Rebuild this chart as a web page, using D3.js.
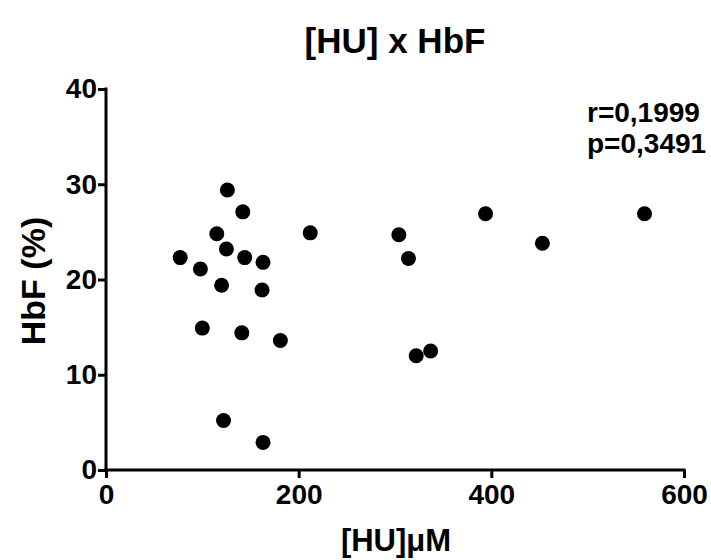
<!DOCTYPE html>
<html>
<head>
<meta charset="utf-8">
<script src="https://cdn.jsdelivr.net/npm/d3@7"></script>
<style>
  body { margin: 0; background: #fff; }
  text { font-family: "Liberation Sans", Arial, sans-serif; font-weight: bold; fill: #000; }
</style>
</head>
<body>
<div id="chart"></div>
<script>
const width = 711,
    height = 560,
    margin = { top: 89, bottom: 90, left: 106, right: 27 };

// HU concentration (uM) and HbF (%)
const huValues = [126, 142, 115, 212, 125, 77, 144, 163, 98, 120, 162, 100, 141, 181, 122, 163, 304, 314, 394, 453, 559, 322, 337];
const hbfValues = [29.4, 27.1, 24.8, 24.9, 23.2, 22.3, 22.3, 21.8, 21.1, 19.4, 18.9, 14.9, 14.4, 13.6, 5.2, 2.9, 24.7, 22.2, 26.9, 23.8, 26.9, 12.0, 12.5];
const xTicks = [0, 200, 400, 600];
const yTicks = [0, 10, 20, 30, 40];
const statLines = ["r=0,1999", "p=0,3491"];

const svg = d3.select("#chart")
    .append("svg")
    .attr("width", width)
    .attr("height", height);

const x = d3.scaleLinear()
    .domain([0, 600])
    .range([margin.left, width - margin.right]);

const y = d3.scaleLinear()
    .domain([0, 40])
    .range([height - margin.bottom, margin.top]);

// axes
const xAxis = svg.append("g")
    .attr("transform", `translate(0,${y(0)})`)
    .call(d3.axisBottom(x).tickValues(xTicks).tickSize(8).tickSizeOuter(0).tickPadding(6));

const yAxis = svg.append("g")
    .attr("transform", `translate(${x(0)},0)`)
    .call(d3.axisLeft(y).tickValues(yTicks).tickSize(8).tickSizeOuter(0).tickPadding(1));

[xAxis, yAxis].forEach(g => {
    g.select(".domain").attr("stroke", "#000").attr("stroke-width", 3);
    g.selectAll(".tick line").attr("stroke", "#000").attr("stroke-width", 3);
    g.selectAll(".tick text")
        .style("font-family", "'Liberation Sans', Arial, sans-serif")
        .style("font-weight", "bold")
        .style("font-size", "28px")
        .attr("fill", "#000");
});
// axis lines extend a little past ends
xAxis.select(".domain").attr("d", `M${x(0) - 1.5},0H${x(600) + 1.5}`);
yAxis.select(".domain").attr("d", `M0,${y(40) - 1.5}V${y(0) + 1.5}`);

// points
svg.selectAll(".dot")
    .data(huValues.map((d, i) => ({ hu: d, hbf: hbfValues[i] })))
    .join("circle")
    .attr("class", "dot")
    .attr("cx", d => x(d.hu))
    .attr("cy", d => y(d.hbf))
    .attr("r", 7.5)
    .attr("fill", "#000");

// title
svg.append("text")
    .attr("x", 395)
    .attr("y", 53)
    .attr("text-anchor", "middle")
    .style("font-size", "35px")
    .text("[HU] x HbF");

// axis labels
svg.append("text")
    .attr("x", 396)
    .attr("y", 551)
    .attr("text-anchor", "middle")
    .style("font-size", "31px")
    .text("[HU]μM");

svg.append("text")
    .attr("transform", "translate(45,281) rotate(-90)")
    .attr("text-anchor", "middle")
    .style("font-size", "34px")
    .text("HbF (%)");

// stats
svg.selectAll(".stat")
    .data(statLines)
    .join("text")
    .attr("class", "stat")
    .attr("x", 587)
    .attr("y", (d, i) => 122 + i * 31)
    .style("font-size", "28px")
    .text(d => d);
</script>
</body>
</html>
